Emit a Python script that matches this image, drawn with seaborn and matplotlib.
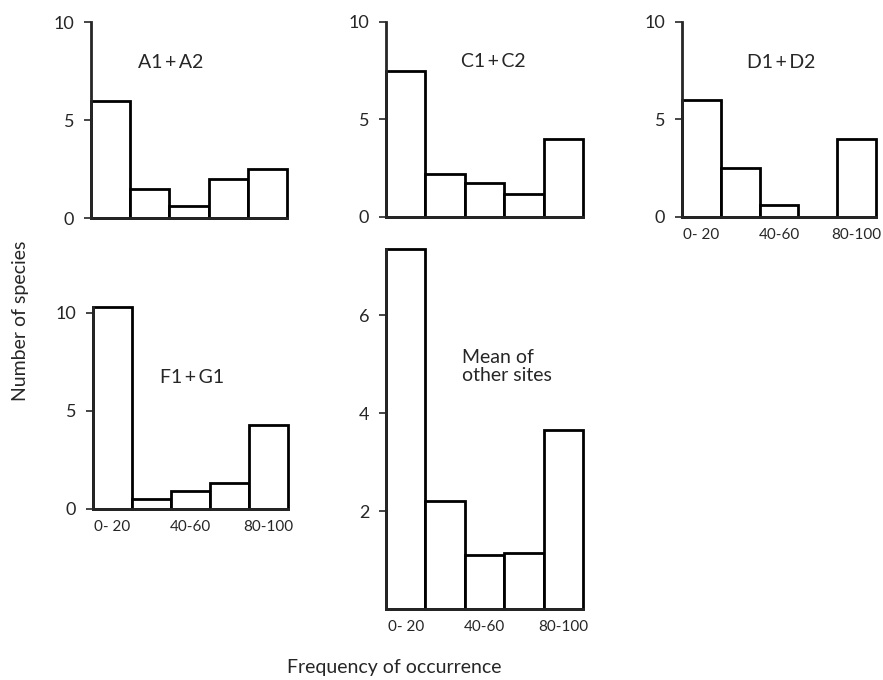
import matplotlib
matplotlib.use("Agg")
import matplotlib.pyplot as plt
import seaborn as sns
import pandas as pd

# frequency classes (%) and number of species per class
bins = ["0-20", "20-40", "40-60", "60-80", "80-100"]
tick_labels = ["0- 20", "", "40-60", "", "80-100"]
a1_a2 = [6.0, 1.5, 0.6, 2.0, 2.5]
c1_c2 = [7.5, 2.2, 1.75, 1.2, 4.0]
d1_d2 = [6.0, 2.5, 0.6, 0.0, 4.0]
f1_g1 = [10.3, 0.5, 0.9, 1.3, 4.3]
mean_other = [7.35, 2.2, 1.1, 1.15, 3.65]

sns.set_style("ticks")
plt.rcParams["font.family"] = ["Lato", "DejaVu Sans"]

fig = plt.figure(figsize=(8.83, 6.8), dpi=100)
ts = "\u2009+\u2009"  # thin spaces round the plus, as in the print


def panel(rect, values, ymax, yticks, title, tx, ty, ha="center", xlabels=False,
          tsize=14):
    ax = fig.add_axes(rect)
    df = pd.DataFrame({"bin": bins, "n": values})
    sns.barplot(data=df, x="bin", y="n", color="white", edgecolor="black",
                linewidth=2, width=1, saturation=1, ax=ax)
    for p in ax.patches:
        p.set_clip_on(False)
    ax.set_xlim(-0.5, 4.5)
    ax.set_ylim(0, ymax)
    ax.set_yticks(yticks)
    ax.set_yticklabels([str(t) for t in yticks], fontsize=13)
    ax.set_xticks(range(5))
    if xlabels:
        ax.set_xticklabels(tick_labels, fontsize=11)
    else:
        ax.set_xticklabels([])
    ax.tick_params(axis="x", length=0, pad=8)
    ax.tick_params(axis="y", length=5, width=1.2, pad=7)
    ax.set_xlabel("")
    ax.set_ylabel("")
    for s in ["top", "right"]:
        ax.spines[s].set_visible(False)
    ax.spines["left"].set_linewidth(2)
    ax.spines["bottom"].set_linewidth(2)
    ax.patch.set_alpha(0)
    ax.text(tx, ty, title, ha=ha, va="center", fontsize=tsize, linespacing=1.1)
    return ax


panel([0.1031, 0.6794, 0.222, 0.288], a1_a2, 10, [0, 5, 10], "A1" + ts + "A2",
      1.54, 7.96)
panel([0.4371, 0.6809, 0.2231, 0.2868], c1_c2, 10, [0, 5, 10], "C1" + ts + "C2",
      2.22, 7.95)
panel([0.7724, 0.6809, 0.2197, 0.2868], d1_d2, 10, [0, 5, 10], "D1" + ts + "D2",
      2.05, 7.9, xlabels=True)
panel([0.1053, 0.2515, 0.2208, 0.297], f1_g1, 10.3, [0, 5, 10], "F1" + ts + "G1",
      2.04, 6.73, xlabels=True)
panel([0.4371, 0.1044, 0.2231, 0.529], mean_other, 7.35, [2, 4, 6],
      "Mean of\nother sites", 1.43, 4.96, ha="left", xlabels=True)

fig.text(0.023, 0.528, "Number of species", rotation=90, ha="center", va="center",
         fontsize=14)
fig.text(0.447, 0.019, "Frequency of occurrence", ha="center", va="center",
         fontsize=14)

fig.savefig("out.png", dpi=100, facecolor="white")
